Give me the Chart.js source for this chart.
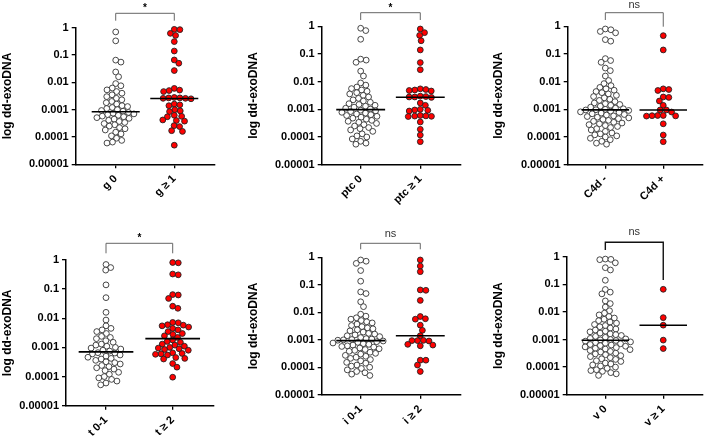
<!DOCTYPE html>
<html><head><meta charset="utf-8">
<script src="https://cdn.jsdelivr.net/npm/chart.js@4.4.1/dist/chart.umd.min.js"></script>
<style>
html,body{margin:0;padding:0;background:#fff;}
#wrap{position:relative;width:708px;height:440px;overflow:hidden;background:#fff;}
#wrap canvas{position:absolute;}
</style></head><body><div id="wrap"></div>
<script>
// ---------- data ----------
const yTickValues = [0.00001, 0.0001, 0.001, 0.01, 0.1, 1];
const yTickLabels = ['0.00001', '0.0001', '0.001', '0.01', '0.1', '1'];
const yAxisTitle = 'log dd-exoDNA';

const gCats = ['g 0', 'g \u2265 1'];
const g0 = [0.7,0.33,0.065,0.055,0.024,0.016,0.009,0.0075,0.0062,0.0053,0.0046,0.004,0.0035,0.003,0.0026,0.0023,0.002,0.0018,0.0016,0.0014,0.0013,0.0012,0.0011,0.001,0.00093,0.00088,
  0.00079,0.00074,0.0007,0.00066,0.00062,0.00058,0.00055,0.00051,0.00048,0.00045,0.00041,0.00037,0.00034,0.00031,0.00028,0.00025,0.00022,0.0002,0.00018,0.00015,0.00013,0.00011,0.00009,0.000075,0.000065,0.00006];
const g1 = [0.87,0.85,0.62,0.52,0.31,0.14,0.066,0.05,0.027,0.006,0.0052,0.005,0.0046,0.0028,0.0027,0.0027,0.0026,0.0026,0.0025,0.0016,0.0015,0.0014,0.001,0.0009,0.00085,0.00062,0.00057,0.00055,0.00042,0.0004,0.00038,0.00026,0.00024,0.00017,0.00016,0.00005];

const ptcCats = ['ptc 0', 'ptc \u2265 1'];
const ptc0 = [0.85,0.7,0.34,0.065,0.06,0.05,0.024,0.016,0.009,0.0075,0.0064,0.0056,0.005,0.0045,0.004,0.0036,0.0032,0.0028,0.0025,0.0022,0.002,0.0018,0.0016,0.0015,0.0014,0.0013,0.0012,0.0011,0.00102,
  0.00093,0.00088,0.00083,0.00078,0.00073,0.00068,0.00064,0.0006,0.00056,0.00052,0.00048,0.00044,0.0004,0.00037,0.00034,0.00031,0.00028,0.00025,0.00022,0.0002,0.00018,0.00016,0.00013,0.00011,0.0001,0.000085,0.00007,0.00006,0.000055];
const ptc1 = [0.8,0.59,0.47,0.30,0.14,0.049,0.027,0.0055,0.0052,0.005,0.0048,0.0046,0.003,0.0029,0.0028,0.0028,0.0027,0.0017,0.0014,0.001,0.00095,0.00092,0.00087,0.0006,0.00058,0.00057,0.00056,0.00055,0.00035,0.00019,0.000118,0.000068];

const c4dCats = ['C4d -', 'C4d +'];
const c4dNeg = [0.8,0.75,0.65,0.58,0.33,0.29,0.068,0.058,0.05,0.031,0.025,0.016,0.011,
  0.0085,0.0072,0.0062,0.0055,0.0049,0.0044,0.004,0.0036,0.0032,0.0029,0.0026,0.0023,0.0021,0.0019,0.0017,0.0016,0.0015,0.0014,0.0013,0.0012,0.0011,0.00105,0.001,0.00097,0.00095,
  0.00091,0.00086,0.00081,0.00077,0.00073,0.00069,0.00065,0.00062,0.00058,0.00055,0.00052,0.00049,0.00046,0.00043,0.0004,0.00037,0.00034,0.00032,0.0003,0.00028,0.00026,0.00024,0.00022,0.0002,0.00018,0.00016,0.00014,0.00013,0.00012,0.00011,0.0001,0.00009,0.00008,0.00007,0.00006,0.000055];
const c4dPos = [0.46,0.14,0.0055,0.0052,0.0048,0.0028,0.0027,0.002,0.0014,0.00095,0.0008,0.00095,0.0006,0.0006,0.00059,0.00058,0.00057,0.0003,0.000118,0.000068];

const tCats = ['t 0-1', 't \u2265 2'];
const t01 = [0.7,0.55,0.45,0.14,0.051,0.016,0.0087,0.0055,0.0045,0.004,0.0035,0.003,0.0024,0.0022,0.002,0.0017,0.0015,0.0013,0.0012,0.0011,0.001,0.00095,0.00088,0.0008,0.00075,
  0.00066,0.00064,0.0006,0.00055,0.0005,0.00046,0.00042,0.0004,0.00036,0.00032,0.0003,0.00027,0.00024,0.00022,0.0002,0.00018,0.00016,0.00014,0.00012,0.0001,0.00009,0.00008,0.00007,0.00006,0.000052];
const t2 = [0.82,0.8,0.33,0.31,0.065,0.063,0.048,0.026,0.022,0.0072,0.007,0.006,0.0058,0.0055,0.005,0.0045,0.004,0.0035,0.003,0.0028,0.0025,0.0022,
  0.0018,0.0016,0.0015,0.0013,0.0012,0.0011,0.001,0.00095,0.0009,0.00085,0.0008,0.00065,0.00062,0.0006,0.00058,0.00055,0.00045,0.00042,0.0004,0.00028,0.00021,0.000095];

const iCats = ['i 0-1', 'i \u2265 2'];
const i01 = [0.8,0.72,0.6,0.33,0.135,0.055,0.048,0.024,0.016,
  0.0085,0.0072,0.0063,0.0056,0.005,0.0045,0.0041,0.0037,0.0033,0.003,0.0027,0.0025,0.0023,0.0021,0.0019,0.0017,0.0016,0.0015,0.0014,0.0013,0.0012,0.0011,0.00106,0.00102,0.00099,0.00096,
  0.0009,0.00085,0.0008,0.00076,0.00072,0.00068,0.00064,0.0006,0.00057,0.00054,0.0005,0.00047,0.00044,0.00041,0.00038,0.00035,0.00032,0.0003,0.00027,0.00025,0.00023,0.00021,0.00019,0.00017,0.00015,0.00014,0.00012,0.00011,0.0001,0.00009,0.00008,0.00007,0.000063,0.000056,0.00005];
const i2 = [0.8,0.48,0.30,0.065,0.063,0.027,0.007,0.0058,0.0056,0.0034,0.0022,0.0014,0.00095,0.00093,0.00093,0.0009,0.00068,0.00064,0.0006,0.00018,0.00018,0.00012,0.00007];

const vCats = ['v 0', 'v \u2265 1'];
const v0 = [0.82,0.8,0.78,0.6,0.4,0.33,0.14,0.065,0.052,0.045,0.025,0.02,0.015,
  0.011,0.009,0.0078,0.0068,0.006,0.0054,0.0048,0.0043,0.0039,0.0035,0.0032,0.0029,0.0026,0.0024,0.0022,0.002,0.0019,0.0017,0.0016,0.0015,0.0014,0.0013,0.0012,0.0011,0.00105,0.001,0.00097,
  0.00092,0.00087,0.00082,0.00077,0.00073,0.0007,0.00066,0.00063,0.0006,0.00057,0.00054,0.00051,0.00048,0.00045,0.00043,0.0004,0.00037,0.00035,0.00032,0.0003,0.00028,0.00026,0.00024,0.00022,0.0002,0.00019,0.00017,0.00016,0.00014,0.00013,0.00012,0.00011,0.0001,0.00009,0.00008,0.000075,0.00007,0.000063,0.000057,0.00005];
const v1 = [0.066,0.0062,0.0033,0.00095,0.00047];

const sigLabels = ['*', '*', 'ns', '*', 'ns', 'ns'];

// ---------- layout / style ----------
const FONT = "'Liberation Sans', Arial, Helvetica, sans-serif";
const panels = [
  {cats:gCats,   a:g0,     b:g1,     sig:sigLabels[0], box:{x:0,  y:0,  w:236,h:220}, area:{l:75.7,r:215,  t:27.7,b:164.3}, padL:0,  xr:[-0.683,1.695], br:{y:13.3,yl:20.7,yr:20.7,ty:6,  col:'#666',lw:1}},
  {cats:ptcCats, a:ptc0,   b:ptc1,   sig:sigLabels[1], box:{x:236,y:0,  w:236,h:220}, area:{l:85.7,r:225,  t:26.3,b:164.7}, padL:10, xr:[-0.654,1.683], br:{y:12.7,yl:20,  yr:20,  ty:6,  col:'#666',lw:1}},
  {cats:c4dCats, a:c4dNeg, b:c4dPos, sig:sigLabels[2], box:{x:472,y:0,  w:236,h:220}, area:{l:95.7,r:236,  t:26.3,b:164.7}, padL:19, xr:[-0.65,1.688],  br:{y:12.7,yl:20,  yr:26.7,ty:4.5,col:'#666',lw:1}},
  {cats:tCats,   a:t01,    b:t2,     sig:sigLabels[3], box:{x:0,  y:220,w:236,h:220}, area:{l:66,  r:213.3,t:40,  b:185.7}, padL:0.5,xr:[-0.6,1.609],   br:{y:23.3,yl:33.3,yr:33.3,ty:16, col:'#666',lw:1}},
  {cats:iCats,   a:i01,    b:i2,     sig:sigLabels[4], box:{x:236,y:220,w:236,h:220}, area:{l:85.7,r:224.7,t:37.3,b:174.7}, padL:10, xr:[-0.654,1.678], br:{y:23.3,yl:29.3,yr:29.3,ty:14.3,col:'#666',lw:1}},
  {cats:vCats,   a:v0,     b:v1,     sig:sigLabels[5], box:{x:472,y:220,w:236,h:220}, area:{l:94.7,r:236,  t:36.7,b:174.7}, padL:19, xr:[-0.667,1.688], br:{y:22.3,yl:30,  yr:60,  ty:12.3,col:'#111',lw:1.4}}
];

function median(arr){
  const s=[...arr].sort((p,q)=>p-q), n=s.length;
  return n%2 ? s[(n-1)/2] : (s[n/2-1]+s[n/2])/2;
}

function swarm(ys, d){
  const idx = ys.map((_,i)=>i).sort((p,q)=>ys[p]-ys[q]);
  const placed=[]; const out=new Array(ys.length).fill(0);
  for(const i of idx){
    const y=ys[i];
    const near=placed.filter(p=>Math.abs(p.y-y)<d);
    const cands=[0];
    for(const p of near){const dx=Math.sqrt(d*d-(p.y-y)*(p.y-y)); cands.push(p.x+dx,p.x-dx);}
    cands.sort((p,q)=>Math.abs(p)-Math.abs(q));
    let x=0;
    for(const c of cands){
      if(near.every(p=>(p.x-c)*(p.x-c)+(p.y-y)*(p.y-y)>=d*d-1e-6)){x=c;break;}
    }
    placed.push({x,y}); out[i]=x;
  }
  return out;
}

const bracketPlugin = {
  id:'bracket',
  afterDraw(chart, args, opts){
    const xs=chart.scales.x, ctx=chart.ctx, b=opts.br;
    const x0=xs.getPixelForValue(0), x1=xs.getPixelForValue(1);
    ctx.save();
    ctx.strokeStyle=b.col; ctx.lineWidth=b.lw;
    ctx.beginPath();
    ctx.moveTo(x0,b.yl); ctx.lineTo(x0,b.y); ctx.lineTo(x1,b.y); ctx.lineTo(x1,b.yr);
    ctx.stroke();
    const star = opts.sig==='*';
    ctx.fillStyle= star ? '#000' : '#333';
    ctx.font = (star?'bold 10px ':'11px ')+FONT;
    ctx.textAlign='center'; ctx.textBaseline='middle';
    ctx.fillText(opts.sig,(x0+x1)/2, b.ty + (star?2:0));
    ctx.restore();
  }
};

const wrap=document.getElementById('wrap');
panels.forEach(P=>{
  const cv=document.createElement('canvas');
  cv.width=P.box.w; cv.height=P.box.h;
  cv.style.left=P.box.x+'px'; cv.style.top=P.box.y+'px';
  cv.style.width=P.box.w+'px'; cv.style.height=P.box.h+'px';
  wrap.appendChild(cv);
  const A=P.area;
  const mk=(vals,c)=>vals.map(v=>({x:c,y:v}));
  const medLine=(vals,c)=>{const m=median(vals);return [{x:c-0.41,y:m},{x:c+0.41,y:m}];};
  const chart=new Chart(cv,{
    type:'scatter',
    data:{datasets:[
      {type:'line',data:medLine(P.a,0),borderColor:'#000',borderWidth:1.6,pointRadius:0,order:0,clip:false},
      {type:'line',data:medLine(P.b,1),borderColor:'#000',borderWidth:1.6,pointRadius:0,order:0,clip:false},
      {data:mk(P.a,0),backgroundColor:'#ffffff',borderColor:'#333',borderWidth:0.9,pointRadius:2.9,order:1,clip:false},
      {data:mk(P.b,1),backgroundColor:'#ff0000',borderColor:'#222',borderWidth:0.9,pointRadius:2.9,order:1,clip:false}
    ]},
    options:{
      responsive:false, animation:false, events:[], devicePixelRatio:1,
      layout:{padding:{left:P.padL,top:A.t,right:P.box.w-A.r,bottom:0}},
      plugins:{legend:{display:false},tooltip:{enabled:false},bracket:{br:P.br,sig:P.sig}},
      scales:{
        x:{type:'linear',min:P.xr[0],max:P.xr[1],
          afterBuildTicks:s=>{s.ticks=[{value:0},{value:1}];},
          afterFit:s=>{s.height=P.box.h-A.b;},
          ticks:{callback:(v,i)=>P.cats[i],minRotation:45,maxRotation:45,autoSkip:false,padding:4,
            color:'#000',font:{family:FONT,size:11,weight:'bold'}},
          grid:{drawOnChartArea:false,drawTicks:true,tickLength:4,color:'#000',lineWidth:1.3},
          border:{color:'#000',width:1.5}
        },
        y:{type:'logarithmic',min:yTickValues[0],max:yTickValues[yTickValues.length-1],
          afterBuildTicks:s=>{s.ticks=yTickValues.map(v=>({value:v}));},
          afterFit:s=>{s.width=A.l-P.padL;},
          ticks:{callback:(v,i)=>yTickLabels[i],autoSkip:false,padding:3,
            color:'#000',font:{family:FONT,size:11,weight:'bold'}},
          grid:{drawOnChartArea:false,drawTicks:true,tickLength:4,color:'#000',lineWidth:1.3},
          border:{color:'#000',width:1.5},
          title:{display:true,text:yAxisTitle,color:'#000',padding:{top:0,bottom:0},
            font:{family:FONT,size:12,weight:'bold'}}
        }
      }
    },
    plugins:[bracketPlugin]
  });
  // beeswarm placement in pixel space, converted back to x units
  const ys=chart.scales.y, xs=chart.scales.x;
  const unit=xs.getPixelForValue(1)-xs.getPixelForValue(0);
  [2,3].forEach((di,k)=>{
    const ds=chart.data.datasets[di];
    const pix=ds.data.map(p=>ys.getPixelForValue(p.y));
    const off=swarm(pix,5.6);
    ds.data.forEach((p,i)=>{p.x=k+off[i]/unit;});
  });
  chart.update('none');
});
</script>
</body></html>
